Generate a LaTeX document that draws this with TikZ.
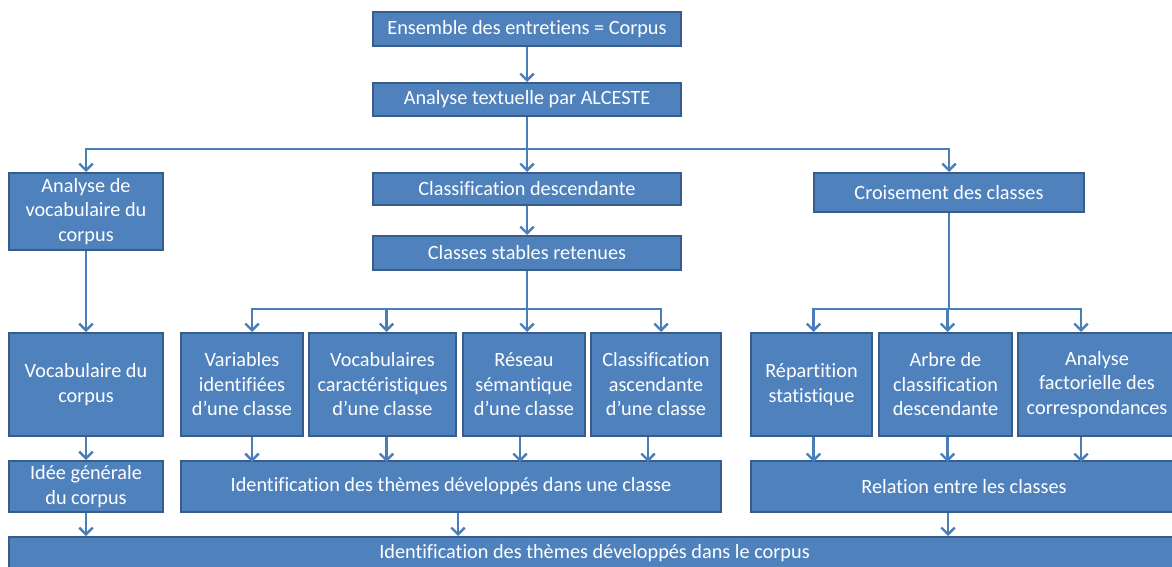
\documentclass[tikz,border=0pt]{standalone}
\usepackage{fontspec}
\setmainfont[Ligatures={NoCommon}]{Carlito}
\usetikzlibrary{arrows.meta, calc}
\definecolor{bleu}{HTML}{4F81BD}
\definecolor{bord}{HTML}{385D8A}
\definecolor{trait}{HTML}{4A7EBB}
\tikzset{
  bloc/.style={draw=bord, fill=bleu, text=white, line width=1.5pt, align=center,
    inner sep=0pt, font=\fontsize{15.2}{18.4}\selectfont},
  dim/.style 2 args={minimum width=#1*0.75pt, minimum height=#2*0.75pt},
  fleche/.style={-{Straight Barb[length=5pt,width=10pt]}, trait, line width=1.8pt},
}
\begin{document}
\begin{tikzpicture}[x=0.75pt, y=-0.75pt]
  \useasboundingbox (0,0) rectangle (1172,567);
  \clip (0,0) rectangle (1172,567);

  % Top of the chain
  \node[bloc, dim={308}{34}] (ens) at (527,29) {Ensemble des entretiens = Corpus};
  \node[bloc, dim={308}{33}] (alc) at (527,99.5) {Analyse textuelle par ALCESTE};

  % Three branches
  \node[bloc, dim={154}{77}] (avoc) at (86,211.5) {Analyse de\\vocabulaire du\\corpus};
  \node[bloc, dim={308}{32}] (cdesc) at (527,189) {Classification descendante};
  \node[bloc, dim={270}{39}] (crois) at (949,192.5) {Croisement des classes};
  \node[bloc, dim={308}{34}] (cstab) at (527,253) {Classes stables retenues};

  % Middle row
  \node[bloc, dim={154}{103}] (vocc) at (86,384.5) {Vocabulaire du\\corpus};
  \node[bloc, dim={122}{103}] (var) at (242,384.5) {Variables\\identifiées\\d’une classe};
  \node[bloc, dim={147}{103}] (vcar) at (382.5,384.5) {Vocabulaires\\caractéristiques\\d’une classe};
  \node[bloc, dim={122}{103}] (res) at (524,384.5) {Réseau\\sémantique\\d’une classe};
  \node[bloc, dim={130}{103}] (casc) at (656,384.5) {Classification\\ascendante\\d’une classe};
  \node[bloc, dim={121}{103}] (rep) at (811.5,384.5) {Répartition\\statistique};
  \node[bloc, dim={133}{103}] (arb) at (945.5,384.5) {Arbre de\\classification\\descendante};
  \node[bloc, dim={158}{103}] (afc) at (1097,384.5) {Analyse\\factorielle des\\correspondances};

  % Lower row
  \node[bloc, dim={154}{51}] (idee) at (86,486.5) {Idée générale\\du corpus};
  \node[bloc, dim={540}{51}] (idcl) at (451,486.5) {Identification des thèmes développés dans une classe};
  \node[bloc, dim={426}{51}] (rel) at (964,486.5) {Relation entre les classes};
  \node[bloc, dim={1171}{33}] (fin) at (594.5,553.5) {Identification des thèmes développés dans le corpus};

  % Connectors
  \draw[fleche] (ens) -- (alc);
  \foreach \n in {avoc, cdesc, crois}
    \draw[fleche] (alc.south) -- ++(0,32) -| (\n.north);
  \draw[fleche] (cdesc) -- (cstab);
  \draw[fleche] (avoc) -- (vocc);
  \foreach \n/\dx in {var/10, vcar/4, res/3, casc/5}
    \draw[fleche] (cstab.south) -- ++(0,38) -| ($(\n.north)+(\dx,0)$);
  \foreach \n/\dx in {rep/2, arb/2, afc/-16}
    \draw[fleche] (crois.south) -- ++(0,96) -| ($(\n.north)+(\dx,0)$);
  \draw[fleche] (vocc) -- (idee);
  \foreach \n/\dx in {var/10, vcar/4, res/-4, casc/-8}
    \draw[fleche] ($(\n.south)+(\dx,0)$) -- ($(\n.south)+(\dx,25)$);
  \foreach \n/\dx in {rep/2, arb/2, afc/-16}
    \draw[fleche] ($(\n.south)+(\dx,0)$) -- ($(\n.south)+(\dx,25)$);
  \draw[fleche] (idee) -- (idee |- fin.north);
  \draw[fleche] ($(idcl.south)+(7,0)$) -- ($(idcl.south |- fin.north)+(7,0)$);
  \draw[fleche] ($(rel.south)+(-16,0)$) -- ($(rel.south |- fin.north)+(-16,0)$);
\end{tikzpicture}
\end{document}
